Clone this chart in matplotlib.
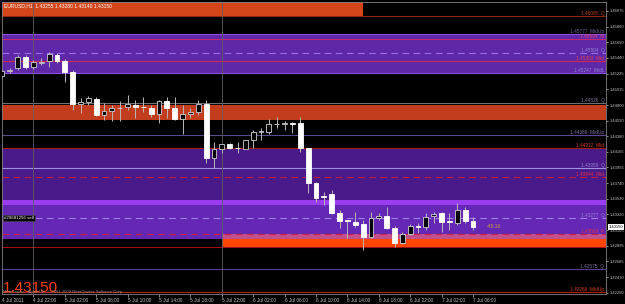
import matplotlib
matplotlib.use("Agg")
import matplotlib.pyplot as plt
from matplotlib.patches import Rectangle

# ---------------- data ----------------
header = "EURUSD,H1  1.43255 1.43280 1.43140 1.43150"
current_price = 1.43150

opens = [1.45193, 1.45260, 1.45301, 1.45450, 1.45314, 1.45369, 1.45396, 1.45477, 1.45396, 1.45247,
         1.44814, 1.44841, 1.44881, 1.44665, 1.44719, 1.44753, 1.44773, 1.44800, 1.44780, 1.44760,
         1.44679, 1.44854, 1.44760, 1.44611, 1.44679, 1.44706, 1.44814, 1.44083, 1.44205, 1.44273,
         1.44225, 1.44205, 1.44327, 1.44435, 1.44435, 1.44543, 1.44550, 1.44557, 1.44557, 1.44219,
         1.43745, 1.43569, 1.43596, 1.43339, 1.43238, 1.43218, 1.43190, 1.43014, 1.43271, 1.43299,
         1.43136, 1.42933, 1.43055, 1.43163, 1.43150, 1.43299, 1.43339, 1.43224, 1.43204, 1.43380,
         1.43231]
highs = [1.45274, 1.45301, 1.45477, 1.45477, 1.45409, 1.45436, 1.45517, 1.45504, 1.45423, 1.45274,
         1.44895, 1.44922, 1.44909, 1.44827, 1.44800, 1.44854, 1.44936, 1.44868, 1.44909, 1.44800,
         1.44868, 1.44909, 1.44909, 1.44800, 1.44760, 1.44868, 1.44868, 1.44300, 1.44273, 1.44286,
         1.44300, 1.44327, 1.44462, 1.44489, 1.44611, 1.44638, 1.44584, 1.44570, 1.44638, 1.44219,
         1.43759, 1.43623, 1.43650, 1.43380, 1.43245, 1.43353, 1.43245, 1.43353, 1.43339, 1.43420,
         1.43163, 1.43082, 1.43190, 1.43204, 1.43339, 1.43353, 1.43353, 1.43339, 1.43475, 1.43420,
         1.43280]
lows = [1.45179, 1.45233, 1.45274, 1.45287, 1.45287, 1.45342, 1.45314, 1.45369, 1.45112, 1.44733,
        1.44692, 1.44800, 1.44652, 1.44597, 1.44584, 1.44584, 1.44733, 1.44625, 1.44706, 1.44638,
        1.44557, 1.44625, 1.44597, 1.44408, 1.44625, 1.44665, 1.44016, 1.43948, 1.44151, 1.44205,
        1.44151, 1.44205, 1.44219, 1.44327, 1.44408, 1.44489, 1.44462, 1.44422, 1.44165, 1.43610,
        1.43488, 1.43447, 1.43326, 1.43136, 1.43001, 1.43150, 1.42838, 1.43001, 1.43245, 1.43123,
        1.42879, 1.42920, 1.43041, 1.43068, 1.43109, 1.43204, 1.43082, 1.43109, 1.43177, 1.43204,
        1.43109]
closes = [1.45260, 1.45274, 1.45450, 1.45314, 1.45382, 1.45382, 1.45490, 1.45396, 1.45247, 1.44814,
          1.44841, 1.44895, 1.44665, 1.44719, 1.44760, 1.44760, 1.44814, 1.44773, 1.44773, 1.44679,
          1.44854, 1.44760, 1.44611, 1.44679, 1.44706, 1.44814, 1.44083, 1.44205, 1.44273, 1.44219,
          1.44219, 1.44327, 1.44435, 1.44442, 1.44543, 1.44550, 1.44557, 1.44550, 1.44219, 1.43745,
          1.43542, 1.43562, 1.43339, 1.43231, 1.43231, 1.43177, 1.43014, 1.43271, 1.43299, 1.43136,
          1.42933, 1.43055, 1.43163, 1.43150, 1.43285, 1.43326, 1.43218, 1.43218, 1.43380, 1.43231,
          1.43150]

time_tick_bars = [4, 8, 12, 16, 20, 24, 28, 32, 36, 40, 44, 48, 52, 56, 60]
time_tick_labels = ["4 Jul 22:00", "5 Jul 02:00", "5 Jul 06:00", "5 Jul 10:00", "5 Jul 14:00",
                    "5 Jul 18:00", "5 Jul 22:00", "6 Jul 02:00", "6 Jul 06:00", "6 Jul 10:00",
                    "6 Jul 14:00", "6 Jul 18:00", "6 Jul 22:00", "7 Jul 02:00", "7 Jul 06:00"]
first_date_label = "4 Jul 2011"
separator_bars = [4, 28]

price_ticks = [1.46075, 1.45860, 1.45650, 1.45440, 1.45225, 1.45015, 1.44800, 1.44590, 1.44380,
               1.44165, 1.43955, 1.43740, 1.43530, 1.43320, 1.43105, 1.42895, 1.42685, 1.42470,
               1.42260]

# zones: low, high, first bar, last bar, colour
zone_low = [1.45991, 1.45233, 1.44597, 1.42987, 1.42987, 1.43447, 1.42866, 1.42987]
zone_high = [1.46300, 1.45761, 1.44800, 1.44205, 1.43447, 1.43515, 1.43055, 1.43055]
zone_start = [None, None, None, None, None, None, 28, 28]
zone_end = [46, None, None, None, None, None, None, None]
zone_colors = ["#d4461a", "#5e28a8", "#c23c1e", "#4a1a8a", "#6428b4", "#9a3cf0", "#ff4500", "#c0508e"]

# horizontal levels
level_prices = [1.46005, 1.45761, 1.45694, 1.45504, 1.45396, 1.45233, 1.44826, 1.44389, 1.44212,
                1.43948, 1.43827, 1.43271, 1.43055, 1.42879, 1.42575, 1.42266]
level_colors = ["#8b2a10", "#8c50e0", "#c02870", "#9a70e8", "#d02850", "#8c50e0", "#707070", "#5a4a88",
                "#a02010", "#a090e0", "#c02040", "#a080e8", "#d02040", "#a01010", "#5a3c90", "#b02010"]
level_styles = ["-", "-", "-", "--", "-", "-", "-", "-", "-", "-", "--", "--", "--", "-", "-", "-"]
level_texts = ["1.46005  Q", "1.45777  MidUp", "1.45694  M", "1.45504  Q", "1.45393  Mid",
               "1.45247  MidL", "1.44826  Q", "1.44389  MidUp", "1.44212  Mid", "1.43959  Q",
               "1.43844  Mid", "1.43277  Q", "1.43064  P", "", "1.42575  Q", "1.42266  MidUp"]
level_text_colors = ["#c04020", "#7060a0", "#e04070", "#9080d0", "#e04050", "#9080d0", "#8070a0",
                     "#8070a0", "#e04020", "#9080d0", "#e03040", "#9080d0", "#e03040", "#e03040",
                     "#8070a0", "#e04020"]

order_label = "#29681256 sell"
order_price = 1.43271
profit_text = "-48.16"
copyright_text = "MetaTrader - Alpari UK, \u00a9 2001-2009 MetaQuotes Software Corp."

# ---------------- figure ----------------
W, H = 625, 304
fig = plt.figure(figsize=(W / 100, H / 100), dpi=100, facecolor="black")
ax = fig.add_axes([2 / W, 10 / H, 604 / W, 292 / H])
ax.set_facecolor("black")
x0, x1 = 0.0, 76.94
y0, y1 = 1.42243, 1.46194
ax.set_xlim(x0, x1)
ax.set_ylim(y0, y1)

# zones
for lo, hi, s, e, c in zip(zone_low, zone_high, zone_start, zone_end, zone_colors):
    s = x0 - 1 if s is None else s
    e = x1 + 1 if e is None else e
    ax.add_patch(Rectangle((s, lo), e - s, hi - lo, facecolor=c, edgecolor="none", zorder=1))

# levels
for p, c, ls, t, tc in zip(level_prices, level_colors, level_styles, level_texts, level_text_colors):
    if ls == "--":
        ax.axhline(p, color=c, lw=0.8, ls=(0, (6, 4)), zorder=2)
    else:
        ax.axhline(p, color=c, lw=0.8, zorder=2)
    if t:
        ax.text(x1 - 0.2, p, t, color=tc, fontsize=3.4, family="Liberation Sans",
                ha="right", va="bottom", zorder=6)

# day separators
for b in separator_bars:
    ax.axvline(b, color="#606060", lw=0.6, zorder=2)

# candles
bw = 0.62
for i, (o, h, l, c) in enumerate(zip(opens, highs, lows, closes)):
    ax.vlines(i, l, h, color="#b8b8b8", lw=0.7, zorder=3)
    bottom = min(o, c)
    height = max(abs(c - o), 0.000012)
    if c < o:
        ax.add_patch(Rectangle((i - bw / 2, bottom), bw, height, facecolor="white",
                               edgecolor="white", lw=0.6, zorder=4))
    else:
        ax.add_patch(Rectangle((i - bw / 2, bottom), bw, height, facecolor="black",
                               edgecolor="#d0d0d0", lw=0.6, zorder=4))

# order label and profit
ax.text(0.25, order_price, order_label, color="white", fontsize=3.2, family="Liberation Sans",
        ha="left", va="center",
        bbox=dict(boxstyle="square,pad=0.25", facecolor="black", edgecolor="#505050", lw=0.4), zorder=7)
ax.text(len(closes) + 0.8, current_price, profit_text, color="#d0a040", fontsize=3.6,
        family="Liberation Sans", ha="left", va="center", zorder=7)

# axes styling
for sp in ax.spines.values():
    sp.set_color("#808080")
    sp.set_linewidth(0.6)
ax.yaxis.tick_right()
ax.set_yticks(price_ticks)
ax.set_yticklabels([f"{v:.5f}" for v in price_ticks], family="Liberation Sans")
ax.tick_params(axis="y", colors="#c0c0c0", labelsize=3.0, length=1.5, width=0.5, pad=1)
ax.set_xticks(time_tick_bars)
ax.set_xticklabels(time_tick_labels, ha="left", family="Liberation Sans")
ax.tick_params(axis="x", colors="#c0c0c0", labelsize=3.4, length=2, width=0.5, pad=1)
ax.text(0.0, -0.012, first_date_label, transform=ax.transAxes, color="#c0c0c0", fontsize=3.4,
        family="Liberation Sans", ha="left", va="top")

# current price box
ax.text(1.004, (current_price - y0) / (y1 - y0), f"{current_price:.5f}",
        transform=ax.transAxes, fontsize=3.0, family="Liberation Sans", color="black",
        ha="left", va="center",
        bbox=dict(boxstyle="square,pad=0.15", facecolor="white", edgecolor="none"), zorder=8)

# header / watermark texts
fig.text(4 / W, 1 - 3 / H, header, color="white", fontsize=3.6, family="Liberation Sans",
         ha="left", va="top")
fig.text(3 / W, 1 - 292 / H, f"{current_price:.5f}", color="#ff4010", fontsize=11,
         family="Liberation Sans", ha="left", va="baseline")
fig.text(3 / W, 1 - 293 / H, copyright_text, color="#909090", fontsize=3.0,
         family="Liberation Sans", ha="left", va="baseline")

fig.savefig("out.png", dpi=100, facecolor="black")
